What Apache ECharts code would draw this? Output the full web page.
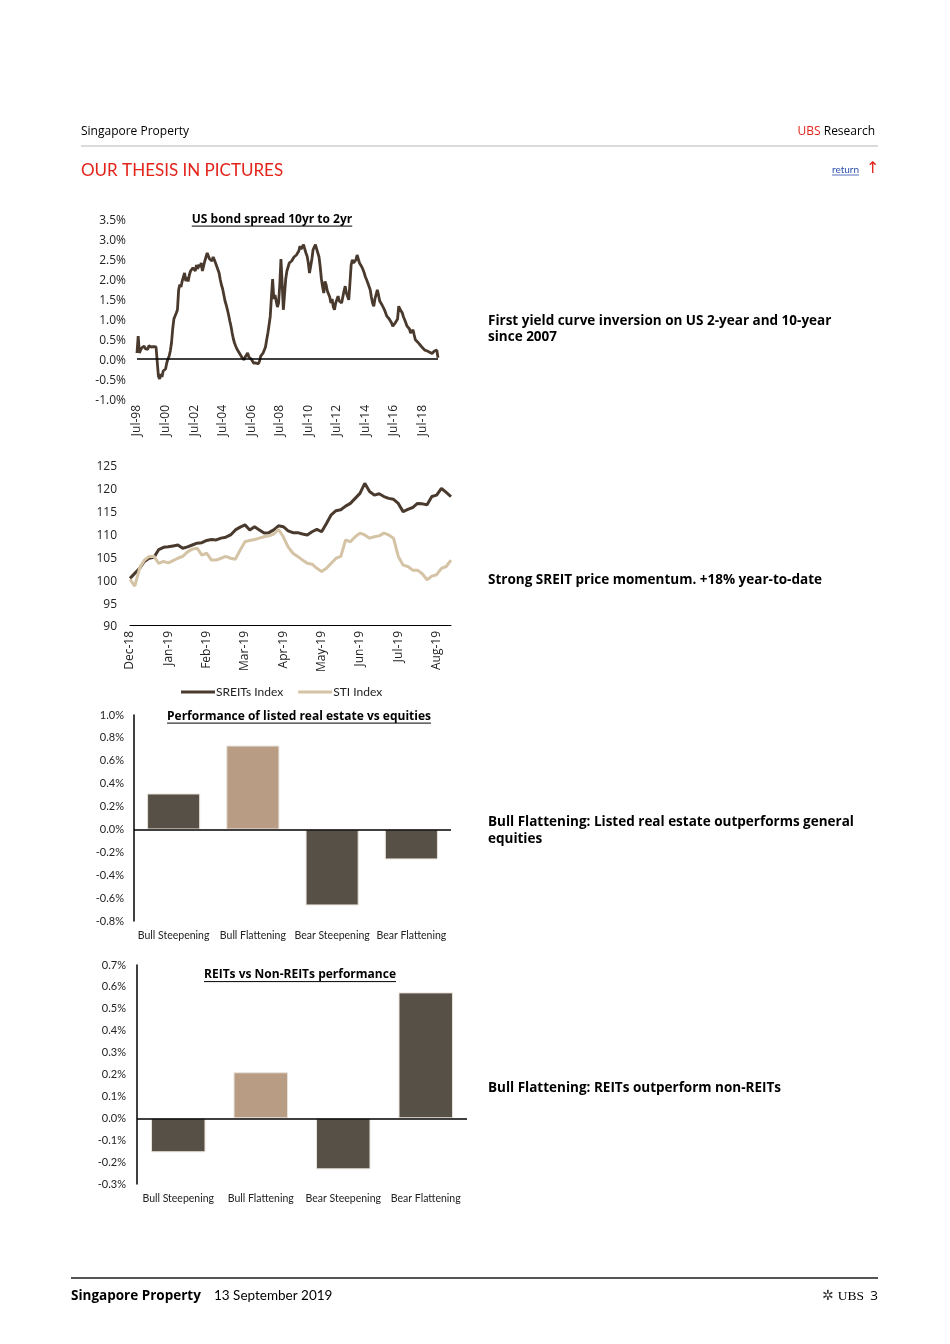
<!DOCTYPE html>
<html>
<head>
<meta charset="utf-8">
<script src="https://cdn.jsdelivr.net/npm/echarts@6/dist/echarts.min.js"></script>
<style>
  html, body { margin: 0; padding: 0; background: #fff; }
  #page { width: 950px; height: 1344px; }
</style>
</head>
<body>
<div id="page"></div>
<script>
// ---------------- DATA ----------------
// Chart 1: US bond spread 10yr-2yr (%), monthly from Jul-98 to Aug-19
const spreadTickLabels = ['Jul-98','Jul-00','Jul-02','Jul-04','Jul-06','Jul-08','Jul-10','Jul-12','Jul-14','Jul-16','Jul-18'];
const spreadValues = [
  0.15, 0.57, 0.15, 0.22, 0.28, 0.25, 0.32, 0.26, 0.30, 0.24, 0.33, 0.28,
  0.30, 0.25, 0.31, 0.27, 0.30, 0.28, -0.43, -0.50, -0.38, -0.45, -0.30, -0.35,
  -0.25, -0.10, 0.00, 0.07, 0.20, 0.40, 0.75, 1.00, 1.05, 1.15, 1.23, 1.73,
  1.86, 1.80, 1.95, 2.05, 2.15, 1.95, 2.05, 1.94, 2.10, 2.20, 2.15, 2.28,
  2.28, 2.20, 2.35, 2.25, 2.36, 2.30, 2.40, 2.20, 2.15, 2.45, 2.55, 2.65,
  2.60, 2.50, 2.53, 2.45, 2.55, 2.48, 2.40, 2.32, 2.30, 2.15, 1.98, 1.85,
  1.75, 1.60, 1.45, 1.35, 1.23, 1.10, 0.95, 0.82, 0.65, 0.50, 0.40, 0.32,
  0.25, 0.20, 0.15, 0.10, 0.05, 0.00, -0.02, 0.05, 0.10, 0.15, 0.05, 0.00,
  0.00, -0.05, -0.10, -0.12, -0.10, -0.15, -0.12, -0.05, 0.07, 0.10, 0.15, 0.19,
  0.30, 0.48, 0.65, 0.85, 1.07, 1.55, 2.00, 1.50, 1.60, 1.45, 1.30, 1.40,
  1.85, 2.50, 1.90, 1.23, 1.60, 2.00, 2.20, 2.30, 2.40, 2.35, 2.45, 2.48,
  2.55, 2.50, 2.60, 2.65, 2.70, 2.82, 2.75, 2.80, 2.86, 2.75, 2.65, 2.57,
  2.40, 2.15, 2.20, 2.50, 2.73, 2.80, 2.86, 2.75, 2.65, 2.55, 2.30, 2.00,
  1.80, 1.65, 1.94, 1.85, 1.70, 1.65, 1.55, 1.40, 1.50, 1.30, 1.23, 1.40,
  1.35, 1.57, 1.45, 1.50, 1.40, 1.55, 1.70, 1.82, 1.65, 1.60, 1.48, 1.90,
  2.35, 2.48, 2.40, 2.45, 2.48, 2.60, 2.50, 2.40, 2.35, 2.30, 2.23, 2.15,
  2.05, 1.98, 1.90, 1.85, 1.73, 1.55, 1.40, 1.32, 1.50, 1.55, 1.73, 1.60,
  1.45, 1.40, 1.35, 1.30, 1.23, 1.15, 1.07, 1.05, 1.00, 0.98, 0.90, 0.82,
  0.85, 0.90, 0.88, 1.00, 1.32, 1.25, 1.23, 1.15, 1.05, 0.98, 0.90, 0.82,
  0.85, 0.75, 0.65, 0.70, 0.73, 0.60, 0.48, 0.50, 0.42, 0.40, 0.35, 0.30,
  0.28, 0.25, 0.22, 0.19, 0.20, 0.15, 0.17, 0.15, 0.14, 0.15, 0.20, 0.25,
  0.22, 0.03
];

// Chart 2: SREITs vs STI index (rebased 100), 8 points per month from Dec-18
const momentumMonthLabels = ['Dec-18','Jan-19','Feb-19','Mar-19','Apr-19','May-19','Jun-19','Jul-19','Aug-19'];
const sreitsValues = [
  100.2, 101.3, 102.4, 103.9, 104.6, 104.8, 106.5, 107.0,
  107.1, 107.3, 107.5, 106.8, 107.1, 107.5, 107.9, 108.0,
  108.5, 108.7, 108.6, 109.0, 109.2, 109.7, 110.8, 111.4,
  111.9, 110.8, 111.5, 110.8, 110.1, 110.2, 110.8, 111.7,
  111.5, 110.6, 110.2, 110.2, 109.9, 109.7, 110.4, 110.9,
  110.4, 112.2, 114.1, 115.0, 115.2, 116.0, 116.6, 117.7,
  118.8, 121.0, 119.2, 118.4, 118.7, 118.1, 117.7, 117.5,
  116.6, 114.8, 115.3, 115.7, 116.6, 116.5, 116.3, 118.1,
  118.4, 119.9, 119.0, 118.1
];
const stiValues = [
  100.0, 98.5, 102.4, 104.2, 105.0, 105.0, 103.5, 103.9,
  103.6, 104.1, 104.6, 105.0, 106.0, 106.6, 106.8, 105.3,
  105.7, 104.2, 104.2, 104.6, 105.0, 104.6, 104.4, 106.4,
  108.2, 108.5, 108.7, 109.0, 109.3, 109.5, 109.9, 110.9,
  109.3, 107.1, 105.7, 105.0, 104.2, 103.5, 103.3, 102.4,
  101.7, 102.4, 103.5, 104.6, 105.0, 108.6, 108.2, 109.3,
  110.1, 109.7, 109.0, 109.3, 109.5, 110.1, 109.7, 109.0,
  105.0, 103.1, 102.8, 102.0, 102.0, 101.2, 99.9, 100.7,
  101.0, 102.4, 102.8, 104.2
];

// Charts 3 & 4: regime performance (%)
const regimeCategories = ['Bull Steepening','Bull Flattening','Bear Steepening','Bear Flattening'];
const realEstateVsEquities = [0.314, 0.733, -0.664, -0.262];
const reitsVsNonReits = [-0.155, 0.21, -0.233, 0.575];

// ---------------- STYLE ----------------
const FONT = '"Open Sans", "Noto Sans", sans-serif';
const FONT_N = 'Lato, "Open Sans", sans-serif';
const DARK = '#4a3a2e';
const LIGHT = '#d5c3a5';
const BAR_DARK = '#575046';
const BAR_LIGHT = '#b89c84';
const RED = '#e2231a';

function measure(text, font) {
  const c = document.createElement('canvas').getContext('2d');
  c.font = font;
  return c.measureText(text).width;
}

// categories
const spreadCats = spreadValues.map((v, i) => 'm' + i);
const momentumCats = sreitsValues.map((v, i) => momentumMonthLabels[Math.floor(i / 8)] + '|' + (i % 8));

function txt(x, y, text, size, opts) {
  opts = opts || {};
  const fam = opts.family || FONT;
  return {
    type: 'text', x: x, y: y, silent: true,
    style: Object.assign({
      text: text,
      font: (opts.weight || 'normal') + ' ' + size + 'px ' + fam,
      fill: opts.color || '#000',
      align: opts.align || 'left', textAlign: opts.align || 'left',
      verticalAlign: 'middle', textVerticalAlign: 'middle'
    }, opts.style || {})
  };
}
function underlinedTitle(cx, cy, text, size) {
  const font = 'bold ' + size + 'px ' + FONT;
  const w = measure(text, font);
  return [
    txt(cx, cy, text, size, { weight: 'bold', align: 'center' }),
    { type: 'line', silent: true, shape: { x1: cx - w / 2, y1: cy + size * 0.55, x2: cx + w / 2, y2: cy + size * 0.55 },
      style: { stroke: '#000', lineWidth: 1 } }
  ];
}

const pctFmt = v => v.toFixed(1) + '%';
const zeroLine = {
  silent: true, symbol: ['none', 'none'], label: { show: false },
  lineStyle: { color: '#000', width: 1.5, type: 'solid' },
  data: [{ yAxis: 0 }]
};
const axisText = (size, fam) => ({ color: '#222', fontSize: size, fontFamily: fam || FONT });
// shifted rich label (Open Sans sits a little high)
const lowRich = { a: { padding: [4, 0, 0, 0], fontSize: 12, fontFamily: FONT, color: '#222' } };

const graphics = [].concat(
  // header
  [txt(81, 131.5, 'Singapore Property', 12)],
  [{ type: 'text', x: 875, y: 131.5, silent: true,
     style: { text: '{r|UBS} Research', font: '12px ' + FONT, fill: '#000',
       align: 'right', textAlign: 'right', verticalAlign: 'middle', textVerticalAlign: 'middle',
       rich: { r: { fill: RED, color: RED, font: '12px ' + FONT } } } }],
  [{ type: 'line', silent: true, shape: { x1: 81, y1: 146, x2: 878, y2: 146 }, style: { stroke: '#cfcfcf', lineWidth: 1.5 } }],
  [txt(81, 170.5, 'OUR THESIS IN PICTURES', 17, { color: RED, family: FONT_N })],
  [txt(832, 170, 'return', 10, { color: '#2b4fae', family: FONT_N })],
  [{ type: 'line', silent: true, shape: { x1: 832, y1: 175, x2: 832 + measure('return', '10px ' + FONT_N), y2: 175 }, style: { stroke: '#2b4fae', lineWidth: 0.8 } }],
  [txt(866, 169, '↑', 16, { color: RED, family: '"DejaVu Sans", sans-serif' })],
  // chart titles
  underlinedTitle(272, 219.5, 'US bond spread 10yr to 2yr', 12),
  underlinedTitle(299, 716.5, 'Performance of listed real estate vs equities', 12),
  underlinedTitle(300, 975, 'REITs vs Non-REITs performance', 12),
  // side notes
  [txt(488, 321.5, 'First yield curve inversion on US 2-year and 10-year', 13.5, { weight: 'bold' })],
  [txt(488, 337.5, 'since 2007', 13.5, { weight: 'bold' })],
  [txt(488, 580.5, 'Strong SREIT price momentum. +18% year-to-date', 13.5, { weight: 'bold' })],
  [txt(488, 822.5, 'Bull Flattening: Listed real estate outperforms general', 13.5, { weight: 'bold' })],
  [txt(488, 839.5, 'equities', 13.5, { weight: 'bold' })],
  [txt(488, 1088.5, 'Bull Flattening: REITs outperform non-REITs', 13.5, { weight: 'bold' })],
  // footer
  [{ type: 'line', silent: true, shape: { x1: 71, y1: 1278, x2: 878, y2: 1278 }, style: { stroke: '#555', lineWidth: 2 } }],
  [txt(71, 1296, 'Singapore Property', 13.5, { weight: 'bold' })],
  [txt(214, 1296, '13 September 2019', 13.5, { family: FONT_N })],
  [txt(878, 1296, '3', 13.5, { align: 'right' })],
  [txt(864, 1296, 'UBS', 13.5, { align: 'right', style: { font: '13.5px "Liberation Serif", serif' } })],
  [txt(822, 1296, '✲', 14, { color: '#333' })]
);

const chart = echarts.init(document.getElementById('page'), null, { renderer: 'canvas' });
chart.setOption({
  animation: false,
  backgroundColor: '#fff',
  textStyle: { fontFamily: FONT },
  grid: [
    { left: 137, top: 219, width: 301, height: 180 },
    { left: 130, top: 465, width: 321, height: 160 },
    { left: 134, top: 715, width: 317, height: 206 },
    { left: 137, top: 965, width: 330, height: 219 }
  ],
  xAxis: [
    { gridIndex: 0, type: 'category', data: spreadCats, boundaryGap: false,
      axisLine: { show: false }, axisTick: { show: false },
      axisLabel: Object.assign(axisText(12), { rotate: 90, interval: 23, margin: 6,
        formatter: (v, i) => spreadTickLabels[Math.round(i / 24)] || '' }) },
    { gridIndex: 1, type: 'category', data: momentumCats, boundaryGap: false,
      axisLine: { show: true, onZero: false, lineStyle: { color: '#000', width: 1 } }, axisTick: { show: false },
      axisLabel: Object.assign(axisText(12), { rotate: 90, interval: 7, margin: 6,
        formatter: v => v.split('|')[0] }) },
    { gridIndex: 2, type: 'category', data: regimeCategories,
      axisLine: { show: false }, axisTick: { show: false },
      axisLabel: Object.assign(axisText(10.5, FONT_N), { margin: 9, interval: 0 }) },
    { gridIndex: 3, type: 'category', data: regimeCategories,
      axisLine: { show: false }, axisTick: { show: false },
      axisLabel: Object.assign(axisText(10.5, FONT_N), { margin: 9, interval: 0 }) }
  ],
  yAxis: [
    { gridIndex: 0, type: 'value', min: -1, max: 3.5, interval: 0.5,
      axisLine: { show: false }, axisTick: { show: false }, splitLine: { show: false },
      axisLabel: Object.assign(axisText(12), { margin: 11, rich: lowRich,
        formatter: v => '{a|' + pctFmt(v) + '}' }) },
    { gridIndex: 1, type: 'value', min: 90, max: 125, interval: 5,
      axisLine: { show: false }, axisTick: { show: false }, splitLine: { show: false },
      axisLabel: Object.assign(axisText(12), { margin: 13, rich: lowRich,
        formatter: v => '{a|' + v + '}' }) },
    { gridIndex: 2, type: 'value', min: -0.8, max: 1.0, interval: 0.2,
      axisLine: { show: true, lineStyle: { color: '#000', width: 1.5 } }, axisTick: { show: false }, splitLine: { show: false },
      axisLabel: Object.assign(axisText(11, FONT_N), { margin: 10, formatter: pctFmt }) },
    { gridIndex: 3, type: 'value', min: -0.3, max: 0.7, interval: 0.1,
      axisLine: { show: true, lineStyle: { color: '#000', width: 1.5 } }, axisTick: { show: false }, splitLine: { show: false },
      axisLabel: Object.assign(axisText(11, FONT_N), { margin: 11, formatter: pctFmt }) }
  ],
  legend: {
    data: ['SREITs Index', 'STI Index'], left: 181, top: 686, padding: 0, icon: 'rect',
    itemWidth: 34, itemHeight: 3, itemGap: 15,
    textStyle: { fontSize: 12, color: '#222', fontFamily: FONT_N, padding: [0, 0, 0, -4] }
  },
  series: [
    { name: 'US spread', type: 'line', xAxisIndex: 0, yAxisIndex: 0, data: spreadValues,
      showSymbol: false, lineStyle: { color: DARK, width: 2.8 }, itemStyle: { color: DARK },
      markLine: zeroLine, z: 3 },
    { name: 'SREITs Index', type: 'line', xAxisIndex: 1, yAxisIndex: 1, data: sreitsValues,
      showSymbol: false, lineStyle: { color: DARK, width: 3 }, itemStyle: { color: DARK } },
    { name: 'STI Index', type: 'line', xAxisIndex: 1, yAxisIndex: 1, data: stiValues,
      showSymbol: false, lineStyle: { color: LIGHT, width: 3 }, itemStyle: { color: LIGHT } },
    { name: 'RE vs equities', type: 'bar', xAxisIndex: 2, yAxisIndex: 2, barCategoryGap: '33%',
      data: realEstateVsEquities.map((v, i) => ({ value: v, itemStyle: { color: i === 1 ? BAR_LIGHT : BAR_DARK } })),
      itemStyle: { borderColor: '#e8e2da', borderWidth: 1 }, markLine: zeroLine },
    { name: 'REITs vs non-REITs', type: 'bar', xAxisIndex: 3, yAxisIndex: 3, barCategoryGap: '34%',
      data: reitsVsNonReits.map((v, i) => ({ value: v, itemStyle: { color: i === 1 ? BAR_LIGHT : BAR_DARK } })),
      itemStyle: { borderColor: '#e8e2da', borderWidth: 1 }, markLine: zeroLine }
  ],
  graphic: graphics
});
</script>
</body>
</html>
